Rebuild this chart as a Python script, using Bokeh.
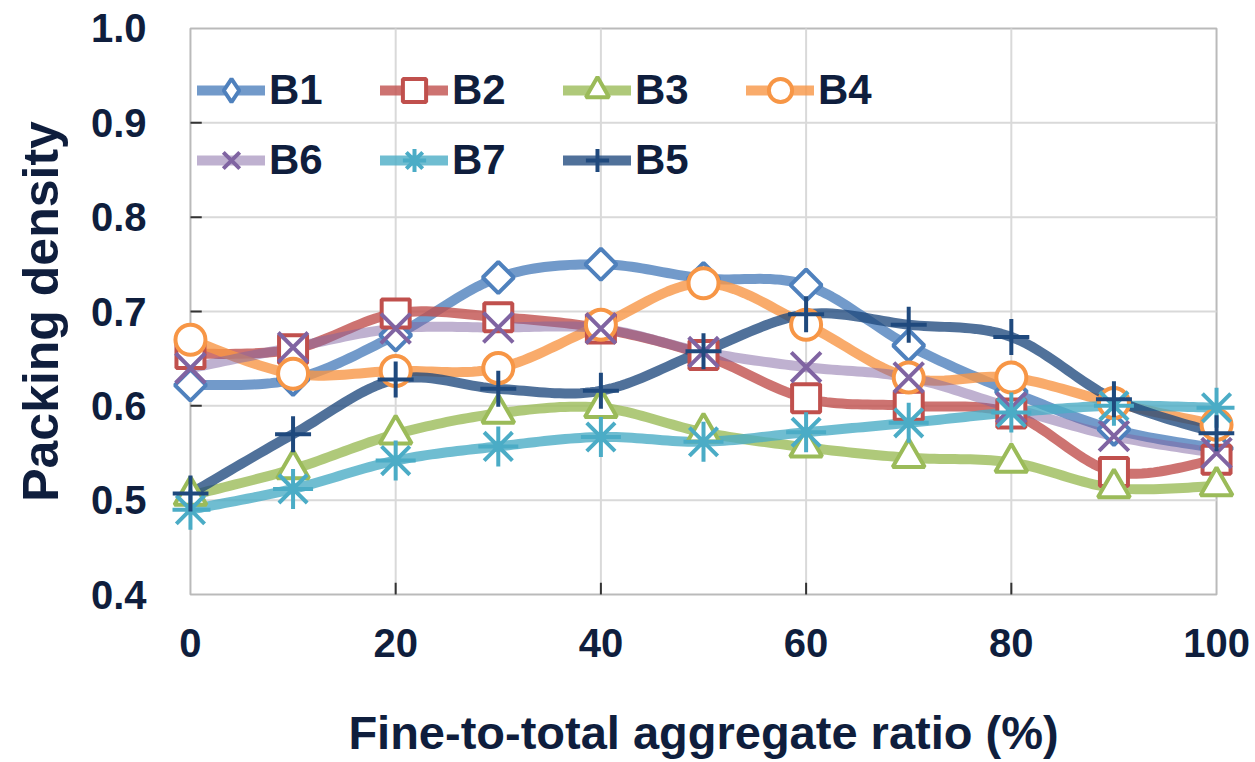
import math
from bokeh.plotting import figure
from bokeh.models import (Range1d, FixedTicker, PrintfTickFormatter, Legend,
                          LegendItem, BoxAnnotation, ColumnDataSource)
from bokeh.embed import file_html
from bokeh.resources import INLINE

# ---------------- data ----------------
ratio = [0, 10, 20, 30, 40, 50, 60, 70, 80, 90, 100]
B1 = [0.622, 0.628, 0.675, 0.736, 0.750, 0.735, 0.728, 0.664, 0.615, 0.575, 0.555]
B2 = [0.655, 0.660, 0.698, 0.694, 0.682, 0.654, 0.608, 0.600, 0.592, 0.530, 0.543]
B3 = [0.505, 0.533, 0.570, 0.592, 0.598, 0.572, 0.556, 0.545, 0.540, 0.513, 0.515]
B4 = [0.670, 0.634, 0.637, 0.640, 0.686, 0.730, 0.686, 0.630, 0.630, 0.603, 0.580]
B6 = [0.640, 0.662, 0.682, 0.683, 0.682, 0.657, 0.641, 0.630, 0.598, 0.568, 0.550]
B7 = [0.490, 0.512, 0.542, 0.557, 0.567, 0.562, 0.572, 0.582, 0.593, 0.600, 0.598]
B5 = [0.507, 0.570, 0.628, 0.618, 0.616, 0.658, 0.697, 0.686, 0.673, 0.607, 0.571]

series_names = ["B1", "B2", "B3", "B4", "B6", "B7", "B5"]
series_values = [B1, B2, B3, B4, B6, B7, B5]

x_ticks = [0, 20, 40, 60, 80, 100]
y_ticks = [0.4, 0.5, 0.6, 0.7, 0.8, 0.9, 1.0]

x_label = "Fine-to-total aggregate ratio (%)"
y_label = "Packing density"

# ---------------- styles ----------------
TEXT = "#0F1E3D"
FONT = "Liberation Sans"
styles = {
    "B1": dict(color="#4F81BD", line_alpha=0.8, marker="square", size=22, angle=math.pi / 4, legend_marker="diamond"),
    "B2": dict(color="#C0504D", line_alpha=0.8, marker="square", size=28, angle=0.0, legend_marker=None),
    "B3": dict(color="#9BBB59", line_alpha=0.8, marker="triangle", size=32, angle=0.0, legend_marker=None),
    "B4": dict(color="#F79646", line_alpha=0.8, marker="circle", size=30, angle=0.0, legend_marker=None),
    "B6": dict(color="#8064A2", line_alpha=0.5, marker="x", size=42, angle=0.0, legend_marker=None),
    "B7": dict(color="#4BACC6", line_alpha=0.8, marker="asterisk", size=40, angle=0.0, legend_marker=None),
    "B5": dict(color="#1F497D", line_alpha=0.78, marker="cross", size=36, angle=0.0, legend_marker=None),
}


def smooth_path(xs, ys, steps=20):
    """Excel-style smoothed line (Catmull-Rom / cubic Bezier) through the data points."""
    px, py = [], []
    n = len(xs)
    for i in range(n - 1):
        i0, i3 = max(i - 1, 0), min(i + 2, n - 1)
        x1, y1, x2, y2 = xs[i], ys[i], xs[i + 1], ys[i + 1]
        c1x = x1 + (x2 - xs[i0]) / 6.0
        c1y = y1 + (y2 - ys[i0]) / 6.0
        c2x = x2 - (xs[i3] - x1) / 6.0
        c2y = y2 - (ys[i3] - y1) / 6.0
        for k in range(steps):
            t = k / steps
            a, b, c, d = (1 - t) ** 3, 3 * (1 - t) ** 2 * t, 3 * (1 - t) * t ** 2, t ** 3
            px.append(a * x1 + b * c1x + c * c2x + d * x2)
            py.append(a * y1 + b * c1y + c * c2y + d * y2)
    px.append(xs[-1])
    py.append(ys[-1])
    return px, py


X_PAD = 1.75
Y_PAD = 0.019

p = figure(width=1255, height=762, output_backend="svg", toolbar_location=None,
           x_range=Range1d(x_ticks[0] - X_PAD, x_ticks[-1] + X_PAD),
           y_range=Range1d(y_ticks[0] - Y_PAD, y_ticks[-1] + Y_PAD),
           min_border_left=172, min_border_right=21, min_border_top=10, min_border_bottom=150)
p.outline_line_color = None
p.background_fill_color = "white"
p.xgrid.visible = False
p.ygrid.visible = False

# axes (labels only; frame box drawn separately)
for ax in (p.xaxis[0], p.yaxis[0]):
    ax.axis_line_color = None
    ax.major_tick_line_color = None
    ax.minor_tick_line_color = None
    ax.major_label_text_font = FONT
    ax.major_label_text_font_style = "bold"
    ax.major_label_text_font_size = "40px"
    ax.major_label_text_color = TEXT
    ax.axis_label_text_font = FONT
    ax.axis_label_text_font_style = "bold"
    ax.axis_label_text_color = TEXT

p.xaxis.ticker = FixedTicker(ticks=x_ticks)
p.yaxis.ticker = FixedTicker(ticks=y_ticks)
p.yaxis.formatter = PrintfTickFormatter(format="%.1f")
p.xaxis.axis_label = x_label
p.yaxis.axis_label = y_label
p.xaxis.axis_label_text_font_size = "47px"
p.yaxis.axis_label_text_font_size = "50px"
p.xaxis.major_label_standoff = 10
p.yaxis.major_label_standoff = 20
p.xaxis.axis_label_standoff = 46
p.yaxis.axis_label_standoff = 19

# gridlines (inside the frame box only)
gx = x_ticks[1:-1]
gy = y_ticks[1:-1]
p.segment(x0=gx, y0=[y_ticks[0]] * len(gx), x1=gx, y1=[y_ticks[-1]] * len(gx),
          line_color="#D9D9D9", line_width=2)
p.segment(x0=[x_ticks[0]] * len(gy), y0=gy, x1=[x_ticks[-1]] * len(gy), y1=gy,
          line_color="#D9D9D9", line_width=2)
# inside tick marks
TX = 0.0125
TY = 1.1
p.segment(x0=gx, y0=[y_ticks[0]] * len(gx), x1=gx, y1=[y_ticks[0] + TX] * len(gx),
          line_color="#333333", line_width=2)
p.segment(x0=[x_ticks[0]] * len(gy), y0=gy, x1=[x_ticks[0] + TY] * len(gy), y1=gy,
          line_color="#333333", line_width=2)

box = BoxAnnotation(left=x_ticks[0], right=x_ticks[-1], bottom=y_ticks[0], top=y_ticks[-1],
                    fill_alpha=0, line_color="#1A1A1A", line_width=2, level="underlay")
p.add_layout(box)

line_renderers = {}
for name, vals in zip(series_names, series_values):
    st = styles[name]
    sx, sy = smooth_path(ratio, vals)
    line_renderers[name] = p.line(sx, sy, line_color=st["color"], line_alpha=st["line_alpha"],
                                  line_width=10, line_cap="round", line_join="round")

marker_renderers = {}
legend_marker_renderers = {}
for name, vals in zip(series_names, series_values):
    st = styles[name]
    src = ColumnDataSource(dict(x=ratio, y=vals))
    if st["legend_marker"]:
        # legend swatch glyph (legend swatches are never rotated); hidden beneath the real markers
        legend_marker_renderers[name] = p.scatter("x", "y", source=src, marker=st["legend_marker"],
                                                  size=18, fill_color="white",
                                                  line_color=st["color"], line_width=4)
    marker_renderers[name] = p.scatter("x", "y", source=src, marker=st["marker"], size=st["size"],
                                       angle=st["angle"], fill_color="white",
                                       line_color=st["color"], line_width=4)
    if not st["legend_marker"]:
        legend_marker_renderers[name] = marker_renderers[name]


def make_legend(names, loc):
    items = [LegendItem(label=n, renderers=[line_renderers[n], legend_marker_renderers[n]])
             for n in names]
    lg = Legend(items=items, orientation="horizontal", location=loc,
                border_line_color=None, background_fill_alpha=0, padding=0, margin=0,
                spacing=57, glyph_width=68, glyph_height=58, label_standoff=4,
                label_width=54, label_height=58,
                label_text_font=FONT, label_text_font_style="bold",
                label_text_font_size="42px", label_text_color=TEXT)
    return lg


p.add_layout(make_legend(["B1", "B2", "B3", "B4"], (25, 493)), "center")
p.add_layout(make_legend(["B6", "B7", "B5"], (25, 423)), "center")

open("out.html", "w").write(file_html(p, INLINE))
